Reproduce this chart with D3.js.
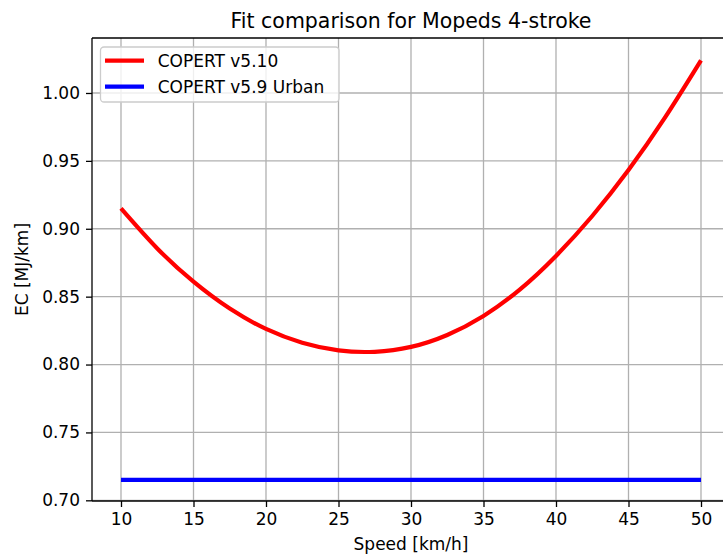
<!DOCTYPE html>
<html>
<head>
<meta charset="utf-8">
<script src="https://cdn.jsdelivr.net/npm/d3@7/dist/d3.min.js"></script>
<style>
  body { margin: 0; background: #fff; }
  svg { display: block; font-family: "DejaVu Sans", sans-serif; }
</style>
</head>
<body>
<svg id="chart" width="723" height="555"></svg>
<script>
// ---- Data ----
const speeds = [10, 12.5, 15, 17.5, 20, 22.5, 25, 27.5, 30, 32.5, 35, 37.5, 40, 42.5, 45, 47.5, 50];
const copertV510 = [0.915, 0.8855, 0.8610, 0.8412, 0.8262, 0.8160, 0.8104, 0.8094, 0.8130, 0.8218, 0.8358, 0.8552, 0.8800, 0.9094, 0.9432, 0.9816, 1.0240];
const copertV59Urban = [0.715, 0.715, 0.715, 0.715, 0.715, 0.715, 0.715, 0.715, 0.715, 0.715, 0.715, 0.715, 0.715, 0.715, 0.715, 0.715, 0.715];
const xTicks = [10, 15, 20, 25, 30, 35, 40, 45, 50];
const yTicks = [0.70, 0.75, 0.80, 0.85, 0.90, 0.95, 1.00];
const seriesNames = ["COPERT v5.10", "COPERT v5.9 Urban"];
const seriesColors = ["#ff0000", "#0000ff"];
const titleText = "Fit comparison for Mopeds 4-stroke";
const xLabel = "Speed [km/h]";
const yLabel = "EC [MJ/km]";

// ---- Layout ----
const svg = d3.select("#chart");
const pL = 92, pR = 730, pT = 38, pB = 501;

const x = d3.scaleLinear().domain([8, 52]).range([pL, pR]);
const y = d3.scaleLinear().domain([0.6995, 1.0405]).range([pB, pT]);

// grid
const grid = svg.append("g");
grid.selectAll(".gx").data(xTicks).enter().append("line")
  .attr("x1", d => x(d)).attr("x2", d => x(d))
  .attr("y1", pT).attr("y2", pB)
  .attr("stroke", "#b0b0b0").attr("stroke-width", 1.3);
grid.selectAll(".gy").data(yTicks).enter().append("line")
  .attr("x1", pL).attr("x2", pR)
  .attr("y1", d => y(d)).attr("y2", d => y(d))
  .attr("stroke", "#b0b0b0").attr("stroke-width", 1.3);

// lines
const seriesData = [copertV510, copertV59Urban];
const line = d3.line().x(d => x(d[0])).y(d => y(d[1])).curve(d3.curveNatural);
seriesData.forEach((vals, i) => {
  svg.append("path")
    .datum(speeds.map((s, j) => [s, vals[j]]))
    .attr("fill", "none")
    .attr("stroke", seriesColors[i])
    .attr("stroke-width", 4.2)
    .attr("stroke-linecap", "butt")
    .attr("d", line);
});

// axes
const xAxis = d3.axisBottom(x).tickValues(xTicks).tickSize(6).tickPadding(6).tickFormat(d3.format("d"));
const yAxis = d3.axisLeft(y).tickValues(yTicks).tickSize(6).tickPadding(6).tickFormat(d3.format(".2f"));

const gx = svg.append("g").attr("transform", `translate(0,${pB})`).call(xAxis);
const gy = svg.append("g").attr("transform", `translate(${pL},0)`).call(yAxis);
[gx, gy].forEach(g => {
  g.select(".domain").remove();
  g.selectAll(".tick line").attr("stroke", "#000").attr("stroke-width", 1.3);
  g.selectAll(".tick text").attr("fill", "#000").attr("font-size", 17)
    .attr("font-family", "DejaVu Sans, sans-serif");
});

// spines
const sp = svg.append("g").attr("fill", "none").attr("stroke", "#000").attr("stroke-width", 1.3);
sp.append("line").attr("x1", pL).attr("x2", pL).attr("y1", pT).attr("y2", pB);
sp.append("line").attr("x1", pL).attr("x2", pR).attr("y1", pB).attr("y2", pB);
sp.append("line").attr("x1", pL).attr("x2", pR).attr("y1", pT).attr("y2", pT);
sp.append("line").attr("x1", pR).attr("x2", pR).attr("y1", pT).attr("y2", pB);

// title & labels
svg.append("text").attr("x", (pL + pR) / 2).attr("y", 27.5)
  .attr("text-anchor", "middle").attr("font-size", 20.5).attr("fill", "#000").text(titleText);
svg.append("text").attr("x", (pL + pR) / 2).attr("y", 550)
  .attr("text-anchor", "middle").attr("font-size", 17).attr("fill", "#000").text(xLabel);
svg.append("text").attr("transform", `translate(28,${(pT + pB) / 2}) rotate(-90)`)
  .attr("text-anchor", "middle").attr("font-size", 17).attr("fill", "#000").text(yLabel);

// legend
const lg = svg.append("g");
lg.append("rect").attr("x", 100.5).attr("y", 47).attr("width", 238.5).attr("height", 55)
  .attr("rx", 3.5).attr("ry", 3.5)
  .attr("fill", "#fff").attr("fill-opacity", 0.8)
  .attr("stroke", "#cccccc").attr("stroke-width", 1.3);
seriesNames.forEach((name, i) => {
  const cy = 60.7 + i * 26;
  lg.append("line").attr("x1", 105).attr("x2", 144).attr("y1", cy).attr("y2", cy)
    .attr("stroke", seriesColors[i]).attr("stroke-width", 4.2);
  lg.append("text").attr("x", 157.7).attr("y", cy + 6).attr("font-size", 17)
    .attr("fill", "#000").text(name);
});
</script>
</body>
</html>
